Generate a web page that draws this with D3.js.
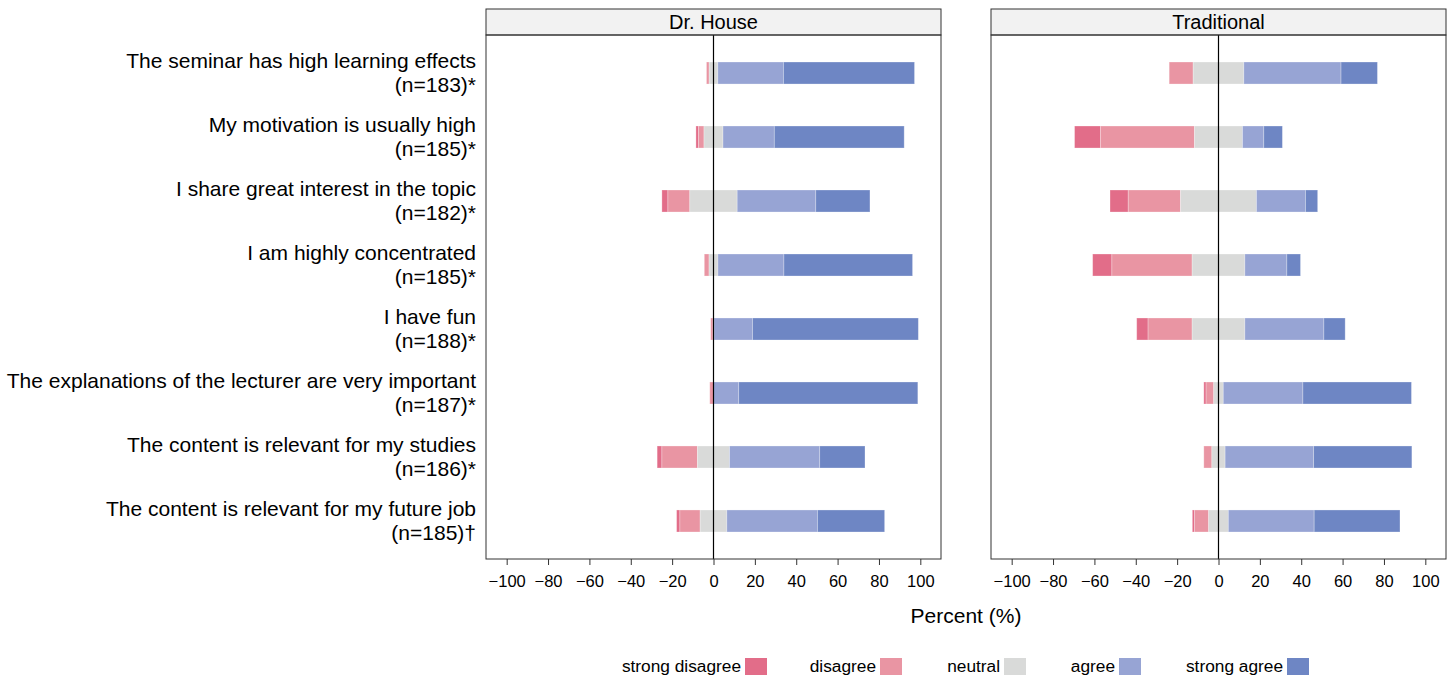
<!DOCTYPE html>
<html>
<head>
<meta charset="utf-8">
<script src="https://cdn.jsdelivr.net/npm/d3@7"></script>
<style>
  html, body { margin: 0; padding: 0; background: #fff; }
  svg { display: block; font-family: "Liberation Sans", Arial, sans-serif; }
</style>
</head>
<body>
<svg id="chart" width="1453" height="679"></svg>
<script>
// ---- data ----
const items = [
  "The seminar has high learning effects",
  "My motivation is usually high",
  "I share great interest in the topic",
  "I am highly concentrated",
  "I have fun",
  "The explanations of the lecturer are very important",
  "The content is relevant for my studies",
  "The content is relevant for my future job"
];
const sampleLabels = ["(n=183)*", "(n=185)*", "(n=182)*", "(n=185)*", "(n=188)*", "(n=187)*", "(n=186)*", "(n=185)†"];
const groups = ["Dr. House", "Traditional"];
const levels = ["strong disagree", "disagree", "neutral", "agree", "strong agree"];
const levelColors = ["#E26D89", "#E995A3", "#D9DAD9", "#97A4D4", "#6E86C4"];
const xTicks = [-100, -80, -60, -40, -20, 0, 20, 40, 60, 80, 100];

// Dr. House (percent per item)
const houseStrongDisagree = [0.0, 1.3, 2.9, 0.0, 0.0, 0.0, 2.3, 1.6];
const houseDisagree       = [1.3, 2.6, 10.6, 2.3, 1.1, 1.8, 17.2, 9.8];
const houseNeutral        = [4.2, 9.2, 22.9, 4.3, 0.5, 0.0, 15.5, 12.9];
const houseAgree          = [31.7, 24.8, 38.0, 31.9, 18.6, 12.2, 43.6, 43.8];
const houseStrongAgree    = [63.4, 62.8, 26.2, 62.2, 80.2, 86.6, 21.9, 32.5];

// Traditional (percent per item)
const tradStrongDisagree = [0.0, 12.6, 8.8, 9.3, 5.5, 1.1, 0.0, 1.0];
const tradDisagree       = [11.6, 45.4, 25.3, 38.8, 21.3, 3.7, 3.9, 6.9];
const tradNeutral        = [24.5, 23.2, 36.7, 25.5, 25.5, 4.6, 6.4, 9.5];
const tradAgree          = [47.0, 10.3, 23.7, 20.3, 38.2, 38.5, 42.8, 41.5];
const tradStrongAgree    = [17.6, 9.0, 5.9, 6.6, 10.3, 52.5, 47.5, 41.5];

const groupData = [
  [houseStrongDisagree, houseDisagree, houseNeutral, houseAgree, houseStrongAgree],
  [tradStrongDisagree, tradDisagree, tradNeutral, tradAgree, tradStrongAgree]
];

// ---- layout ----
const svg = d3.select("#chart");
const panelTop = 9, stripH = 26, panelBottom = 559;
const plotTop = panelTop + stripH;
const panels = [{x0: 486, x1: 941}, {x0: 991, x1: 1446}];

const y = d3.scaleBand()
  .domain(items)
  .range([plotTop, panelBottom])
  .paddingInner(0.656)
  .paddingOuter(0.422);

// Row labels
const labelG = svg.append("g");
items.forEach((it, i) => {
  const cy = y(it) + y.bandwidth() / 2;
  const t = labelG.append("text")
    .attr("text-anchor", "end")
    .attr("font-size", 21)
    .attr("fill", "#000");
  t.append("tspan").attr("x", 476).attr("y", cy - 5).text(it);
  t.append("tspan").attr("x", 476).attr("y", cy + 19).text(sampleLabels[i]);
});

groups.forEach((g, gi) => {
  const p = panels[gi];
  const x = d3.scaleLinear().domain([-110, 110]).range([p.x0, p.x1]);
  const pg = svg.append("g");

  // strip
  pg.append("rect")
    .attr("x", p.x0).attr("y", panelTop)
    .attr("width", p.x1 - p.x0).attr("height", stripH)
    .attr("fill", "#F2F2F2").attr("stroke", "#333").attr("stroke-width", 1);
  pg.append("text")
    .attr("x", (p.x0 + p.x1) / 2).attr("y", panelTop + 20)
    .attr("text-anchor", "middle").attr("font-size", 20)
    .text(g);

  // bars
  const vals = groupData[gi];
  items.forEach((it, i) => {
    const sd = vals[0][i], d = vals[1][i], n = vals[2][i];
    let start = -(sd + d + n / 2);
    levels.forEach((lv, li) => {
      const v = vals[li][i];
      if (v > 0) {
        pg.append("rect")
          .attr("x", x(start))
          .attr("y", y(it))
          .attr("width", x(start + v) - x(start))
          .attr("height", y.bandwidth())
          .attr("fill", levelColors[li])
          .attr("stroke", "#ffffff")
          .attr("stroke-opacity", 0.35)
          .attr("stroke-width", 0.8);
      }
      start += v;
    });
  });

  // zero line
  pg.append("line")
    .attr("x1", x(0)).attr("x2", x(0))
    .attr("y1", plotTop).attr("y2", panelBottom)
    .attr("stroke", "#000").attr("stroke-width", 1.2);

  // panel frame
  pg.append("rect")
    .attr("x", p.x0).attr("y", plotTop)
    .attr("width", p.x1 - p.x0).attr("height", panelBottom - plotTop)
    .attr("fill", "none").attr("stroke", "#333").attr("stroke-width", 1);

  // axis
  const ax = pg.append("g")
    .attr("transform", `translate(0,${panelBottom})`)
    .call(d3.axisBottom(x).tickValues(xTicks).tickSize(6).tickSizeOuter(0).tickPadding(10));
  ax.select(".domain").remove();
  ax.selectAll(".tick line").attr("stroke", "#333");
  ax.selectAll(".tick text")
    .attr("font-size", 16.5)
    .attr("font-family", "'Liberation Sans', Arial, sans-serif")
    .attr("fill", "#000");
});

// x title
svg.append("text")
  .attr("x", 966).attr("y", 623)
  .attr("text-anchor", "middle").attr("font-size", 21)
  .text("Percent (%)");

// legend
const legendTextEnd = [741, 876, 1000, 1115, 1283];
const lg = svg.append("g");
levels.forEach((lv, li) => {
  lg.append("text")
    .attr("x", legendTextEnd[li]).attr("y", 672)
    .attr("text-anchor", "end").attr("font-size", 17.3)
    .text(lv);
  lg.append("rect")
    .attr("x", legendTextEnd[li] + 4).attr("y", 658)
    .attr("width", 22).attr("height", 17)
    .attr("fill", levelColors[li]);
});
</script>
</body>
</html>
